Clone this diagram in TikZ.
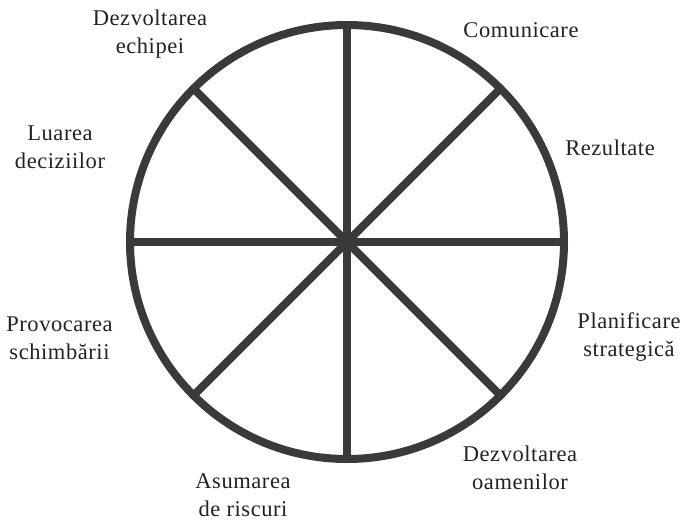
\documentclass[tikz,border=0pt]{standalone}
\usepackage{fontspec}
\usetikzlibrary{calc}
\setmainfont{Liberation Serif}[LetterSpace=2.5]
\definecolor{wheel}{HTML}{3A3A3A}
\definecolor{txt}{HTML}{222222}
\begin{document}
\begin{tikzpicture}[x=1pt,y=-1pt,
  spoke/.style={draw=wheel,line width=8pt,line cap=butt},
  lbl/.style={align=center,text=txt,font=\fontsize{22.5}{28}\selectfont,inner sep=0pt}]
\useasboundingbox (0,0) rectangle (683,523);
\coordinate (c) at (347,242);
\def\R{217}
\foreach \a/\n in {0/e,45/ne,90/n,135/nw,180/w,225/sw,270/s,315/se}{
  \coordinate (p\n) at ($(c)+(\a:\R)$);
}
\draw[spoke] (pn) -- (ps);
\draw[spoke] (pe) -- (pw);
\draw[spoke] (pne) -- (psw);
\draw[spoke] (pnw) -- (pse);
\draw[spoke] (c) circle[radius=\R];
\node[lbl] (l1) at (150,33.7) {Dezvoltarea\\echipei};
\node[lbl] (l2) at (521,29.7) {Comunicare};
\node[lbl] (l3) at (610,147.3) {Rezultate};
\node[lbl] (l4) at (60,147.5) {Luarea\\deciziilor};
\node[lbl] (l5) at (59.5,338) {Provocarea\\schimbării};
\node[lbl] (l6) at (629,337) {Planificare\\strategică};
\node[lbl] (l7) at (520,468) {Dezvoltarea\\oamenilor};
\node[lbl] (l8) at (243,495.4) {Asumarea\\de riscuri};
\end{tikzpicture}
\end{document}
